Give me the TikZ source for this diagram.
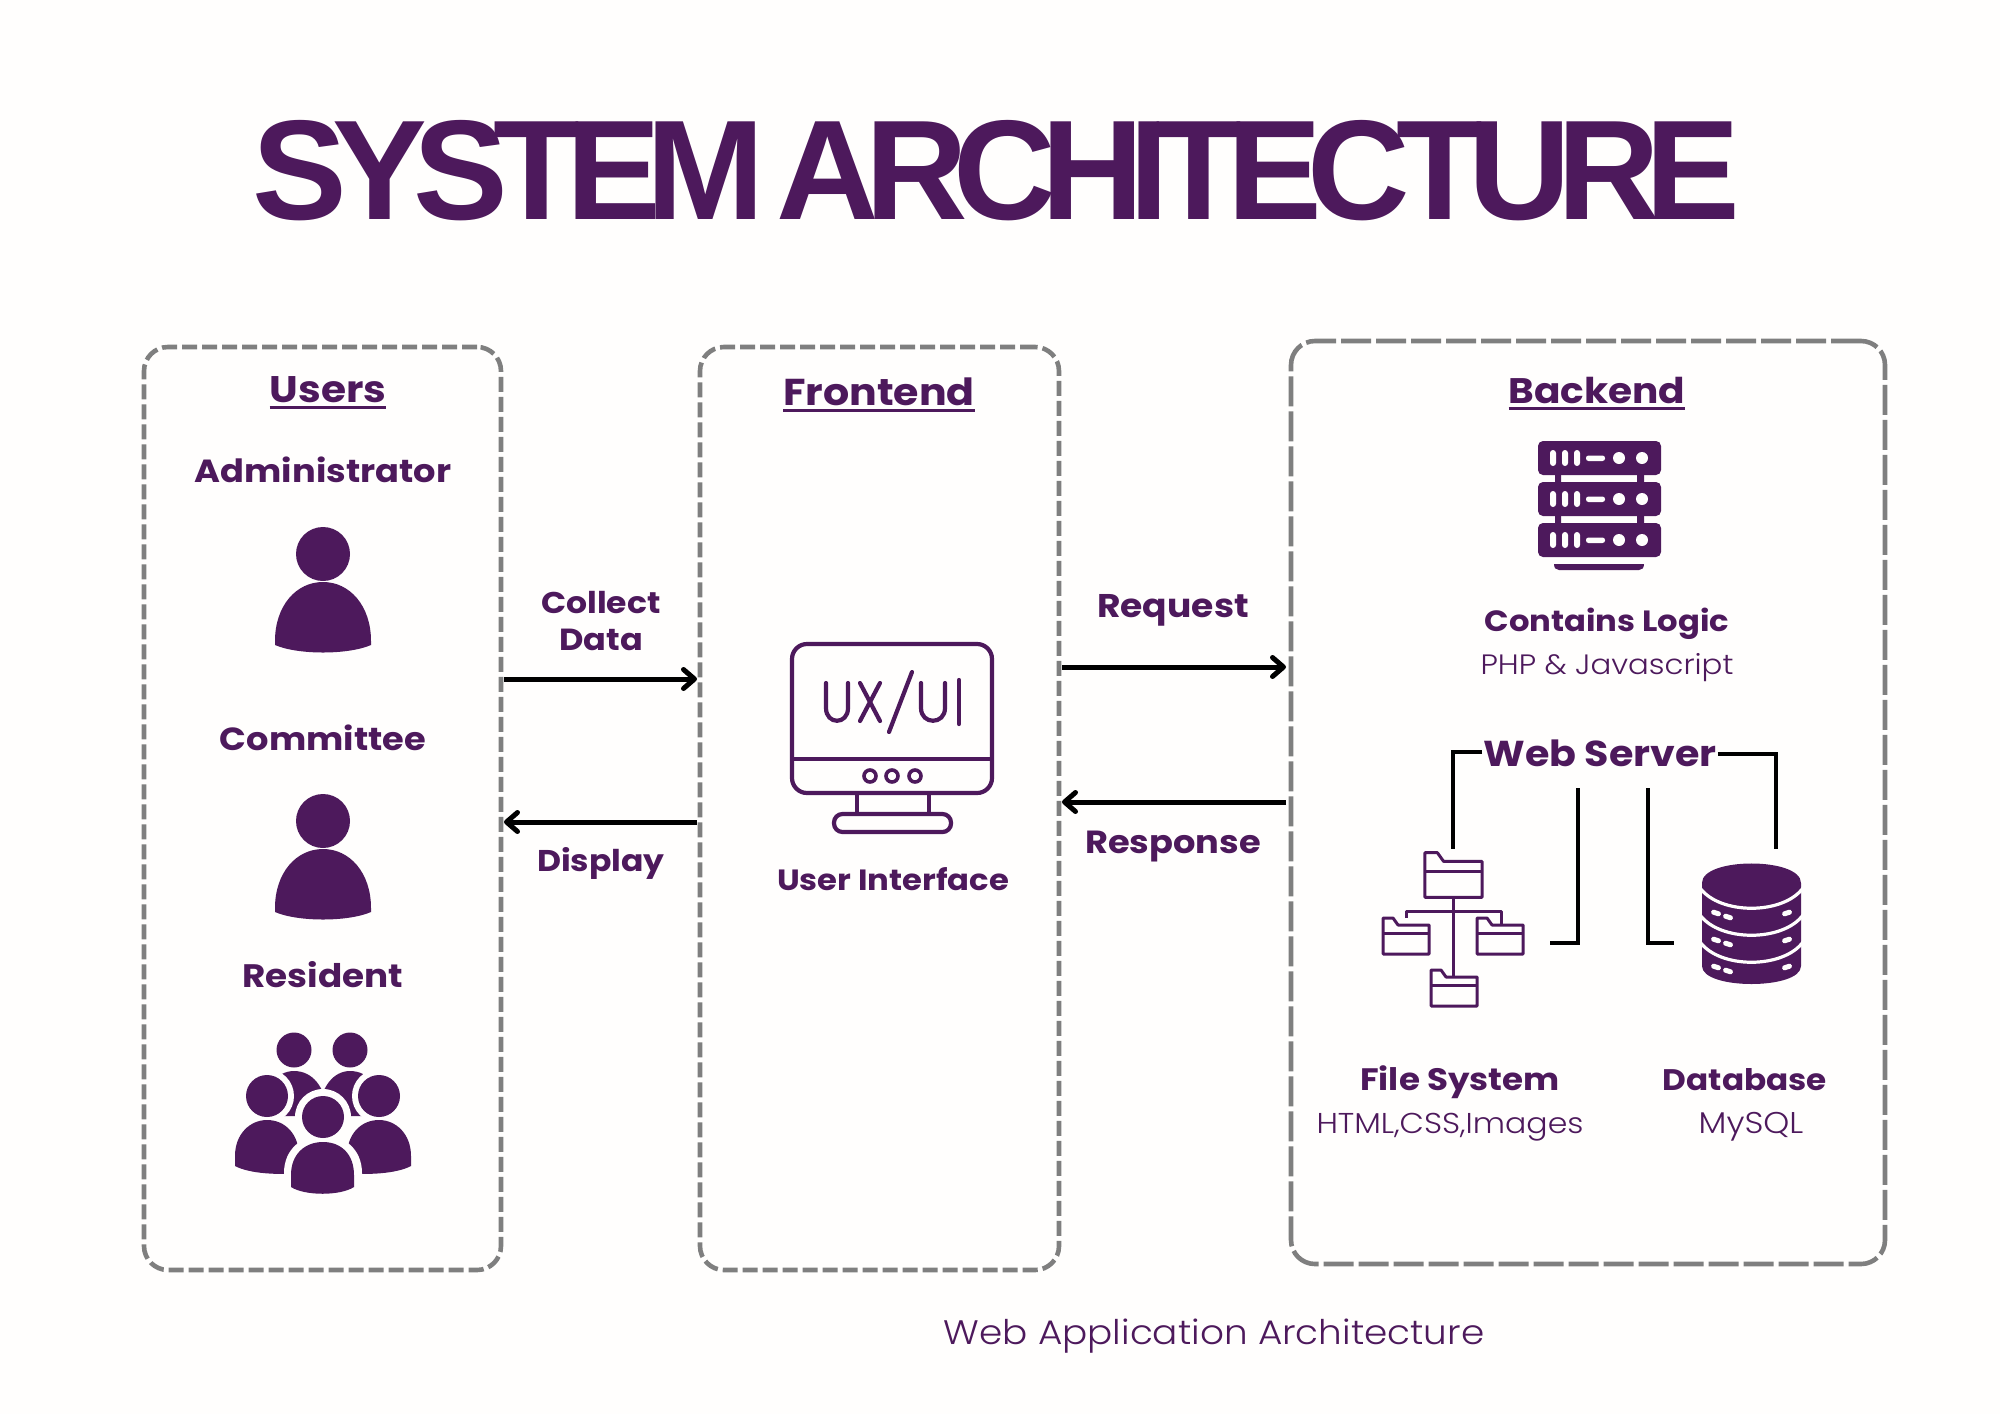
\documentclass[tikz,border=0pt]{standalone}
\usepackage{fontspec}
\usetikzlibrary{arrows.meta}
\setmainfont[FakeStretch=1.1,UprightFont=* Light,BoldFont=*-Bold]{Poppins}
\newfontfamily\titlefont[LetterSpace=-10.05]{Liberation Sans}
\definecolor{plum}{HTML}{4D195C}
\definecolor{boxgrey}{HTML}{7F7F7F}
\definecolor{paper}{HTML}{FFFEFD}
\newcommand{\ulbar}[1]{\setbox0\hbox{#1}\rlap{\rule[-6pt]{\wd0}{2.8pt}}\box0}
\tikzset{
  x=1pt,y=-1pt,
  fsb/.style={font=\fontsize{#1}{40}\selectfont\bfseries},
  fsr/.style={font=\fontsize{#1}{40}\selectfont},
  lbl/.style={inner sep=0pt,anchor=mid,yshift=-10.5pt,text=plum,fsb=32,align=center},
  head/.style={inner sep=0pt,anchor=mid,yshift=-11pt,text=plum,fsb=37},
  sub/.style={inner sep=0pt,anchor=mid,yshift=-9pt,text=plum,fsr=28},
  dashbox/.style={draw=boxgrey,outer sep=0pt,line width=4.6pt,rounded corners=24pt,dash pattern=on 15pt off 5pt,inner sep=0pt,anchor=north west},
  flow/.style={draw=black,line width=5pt,-{Straight Barb[round,length=11pt,width=19pt,line width=5pt]}},
  wire/.style={draw=black,line width=4pt,line cap=butt},
  icon/.style={draw=plum,line width=3pt,line join=round,fill=none},
  personicon/.pic={
    \fill[plum] (0,0) circle[radius=27];
    \fill[plum] (-48,87) .. controls (-48,52) and (-27,28) .. (0,28) .. controls (27,28) and (48,52) .. (48,87) -- (48,91) .. controls (25,101) and (-25,101) .. (-48,91) -- cycle;
  },
  foldericon/.pic={
    \draw[icon] (-23,-18) -- (-23,18) -- (23,18) -- (23,-11) -- (-8,-11) -- (-13,-18) -- cycle;
    \draw[icon] (-23,-3) -- (23,-3);
  },
}
\begin{document}
\begin{tikzpicture}
\useasboundingbox (0,0) rectangle (2000,1414);
\fill[paper] (0,0) rectangle (2000,1414);

\node[inner sep=0pt,text=plum,font=\fontsize{142}{142}\selectfont\titlefont\bfseries,anchor=base] (title) at (996,219) {SYSTEM\hspace{-13pt} ARCHITECTURE};

% boxes
\node[dashbox,minimum width=357pt,minimum height=923pt] (users) at (144,347) {};
\node[dashbox,minimum width=359pt,minimum height=923pt] (front) at (700,347) {};
\node[dashbox,dash pattern=on 30pt off 5pt,minimum width=594pt,minimum height=923pt] (back) at (1291,341) {};

% headings and labels
\node[head] (husers) at (328,389) {\ulbar{Users}};
\node[head,fsb=37.4] (hfront) at (879,392) {\ulbar{Frontend}};
\node[head,fsb=35.5] (hback) at (1597,390) {\ulbar{Backend}};
\node[lbl] (ladmin) at (323,469) {Administrator};
\node[lbl] (lcomm) at (323,737) {Committee};
\node[lbl,fsb=32.5] (lres) at (323,974) {Resident};
\node[lbl,fsb=30] (lcollect) at (601,600) {Collect};
\node[lbl,fsb=30.5] (ldata) at (601,637) {Data};
\node[lbl,fsb=30] (ldisp) at (601,858) {Display};
\node[lbl,fsb=32.8] (lreq) at (1173,604.5) {Request};
\node[lbl] (lresp) at (1173,840.5) {Response};
\node[lbl,fsb=29.3] (lui) at (893,877) {User Interface};
\node[lbl,fsb=29.3] (llogic) at (1607,618) {Contains Logic};
\node[sub] (lphp) at (1607,663) {PHP \& Javascript};
\node[head,fsb=36] (ws) at (1600,753) {Web Server};
\node[lbl,fsb=31] (lfile) at (1460,1077.5) {File System};
\node[sub,fsr=28.7] (lhtml) at (1450,1122) {HTML,CSS,Images};
\node[lbl,fsb=29.7] (ldb) at (1745,1077.5) {Database};
\node[sub,fsr=30] (lmysql) at (1751,1122) {MySQL};
\node[sub,fsr=34,yshift=-1pt] (lcap) at (1214,1332) {Web Application Architecture};

% flows
\coordinate (ycollect) at (0,679);
\coordinate (ydisp) at (0,822);
\coordinate (yreq) at (0,667);
\coordinate (yresp) at (0,802);
\draw[flow] ([xshift=3pt]users.east |- ycollect) -- ([xshift=-3pt]front.west |- ycollect);
\draw[flow] ([xshift=-3pt]front.west |- ydisp) -- ([xshift=3pt]users.east |- ydisp);
\draw[flow] ([xshift=3pt]front.east |- yreq) -- ([xshift=-5pt]back.west |- yreq);
\draw[flow] ([xshift=-5pt]back.west |- yresp) -- ([xshift=3pt]front.east |- yresp);

% people
\pic at (323,554) {personicon};
\pic at (323,821) {personicon};

% group
\begin{scope}[yshift=-1pt]
\fill[plum] (294,1049) circle[radius=17.5];
\fill[plum] (350,1049) circle[radius=17.5];
\fill[plum] (260,1115) .. controls (262,1085) and (278,1070) .. (294,1070) .. controls (312,1070) and (326,1085) .. (328,1115) -- cycle;
\fill[plum] (318,1115) .. controls (320,1085) and (334,1070) .. (350,1070) .. controls (368,1070) and (382,1085) .. (384,1115) -- cycle;
\fill[paper] (267,1095) circle[radius=27];
\fill[paper] (379,1095) circle[radius=27];
\fill[plum] (267,1095) circle[radius=21];
\fill[plum] (379,1095) circle[radius=21];
\fill[plum] (235,1165) -- (235,1155) .. controls (235,1133) and (250,1119) .. (267,1119) .. controls (285,1119) and (299,1133) .. (299,1155) -- (299,1172) .. controls (280,1174) and (250,1173) .. (235,1165) -- cycle;
\fill[plum] (411,1165) -- (411,1155) .. controls (411,1133) and (396,1119) .. (379,1119) .. controls (361,1119) and (347,1133) .. (347,1155) -- (347,1172) .. controls (366,1174) and (396,1173) .. (411,1165) -- cycle;
\fill[paper] (323,1116) circle[radius=28];
\fill[paper] (284,1200) -- (284,1172) .. controls (284,1148) and (302,1134) .. (323,1134) .. controls (344,1134) and (362,1148) .. (362,1172) -- (362,1200) -- cycle;
\fill[plum] (323,1116) circle[radius=21];
\fill[plum] (291,1186) -- (291,1174) .. controls (291,1153) and (305,1141) .. (323,1141) .. controls (341,1141) and (354,1153) .. (354,1174) -- (354,1186) .. controls (340,1195) and (305,1195) .. (291,1186) -- cycle;
\end{scope}

% monitor
\begin{scope}[yshift=-1pt]
\draw[plum,line width=4.2pt,rounded corners=15pt] (792,643) rectangle (992,792);
\draw[plum,line width=4.2pt] (792,758) -- (992,758);
\draw[plum,line width=3.6pt] (870,775) circle[radius=6] (892,775) circle[radius=6] (915,775) circle[radius=6];
\draw[plum,line width=4.2pt] (857,792) -- (857,813) (929,792) -- (929,813);
\draw[plum,line width=4.2pt,rounded corners=8.5pt] (834,813) rectangle (951,831);
\begin{scope}[plum,line width=4.2pt,line cap=round]
\draw (826,682) -- (826,707) .. controls (826,724) and (848,724) .. (848,707) -- (848,682);
\draw (860,682) -- (880,720) (880,682) -- (860,720);
\draw (912,671) -- (889,731);
\draw (921,682) -- (921,707) .. controls (921,724) and (945,724) .. (945,707) -- (945,682);
\draw (959,679) -- (959,723);
\end{scope}
\end{scope}

% server
\fill[plum] (1555,475) rectangle (1561,523) (1637,475) rectangle (1644,523);
\foreach \cy in {458,499,540}{
  \fill[plum,rounded corners=5pt] (1538,\cy-17) rectangle (1661,\cy+17);
  \foreach \px in {1553,1565,1577}{
    \fill[paper,rounded corners=3pt] (\px-3,\cy-8) rectangle (\px+3,\cy+8);
  }
  \fill[paper,rounded corners=2.5pt] (1586,\cy-2.5) rectangle (1605,\cy+3);
  \fill[paper] (1619,\cy) circle[radius=6];
  \fill[paper] (1642,\cy) circle[radius=6];
}
\fill[plum] (1554,564) -- (1644,564) .. controls (1644,568) and (1642,570) .. (1639,570) -- (1559,570) .. controls (1556,570) and (1554,568) .. (1554,564) -- cycle;

% web-server wiring
\coordinate (foldtop) at (1453,849);
\coordinate (dbtop) at (1776,849);
\coordinate (yl) at (0,752);
\coordinate (yr) at (0,754);
\coordinate (linnertop) at (1578,788);
\coordinate (linnerend) at (1550,943);
\coordinate (rinnertop) at (1648,788);
\coordinate (rinnerend) at (1674,943);
\draw[wire] ([xshift=-1pt]ws.west |- yl) -| (foldtop);
\draw[wire] ([xshift=1pt]ws.east |- yr) -| (dbtop);
\draw[wire] (linnertop) |- (linnerend);
\draw[wire] (rinnertop) |- (rinnerend);

% folders
\pic[scale=1.24] at (1453.5,875) {foldericon};
\pic at (1406,936) {foldericon};
\pic at (1500,936) {foldericon};
\pic at (1454,988) {foldericon};
\draw[icon] (1453.5,897) -- (1453.5,977);
\draw[icon] (1406,918) -- (1406,911) -- (1501,911) -- (1501,925);

% database
\fill[plum] (1702,883) -- (1702,966) .. controls (1702,990) and (1801,990) .. (1801,966) -- (1801,883) -- cycle;
\fill[plum] (1702,883) .. controls (1702,857) and (1801,857) .. (1801,883) -- cycle;
\foreach \ys/\yc in {888/910,915/937,942/964}{
  \draw[paper,line width=3.2pt] (1700,\ys) .. controls (1720,\yc+5) and (1783,\yc+5) .. (1803,\ys);
}
\foreach \yo in {0,27,54}{
  \fill[paper,rotate around={-18:(1716,913+\yo)},rounded corners=2.4pt] (1711,910.5+\yo) rectangle (1721,915.5+\yo);
  \fill[paper,rotate around={-18:(1728,917+\yo)},rounded corners=2.4pt] (1723,914.5+\yo) rectangle (1733,919.5+\yo);
  \fill[paper,rotate around={18:(1787,913+\yo)},rounded corners=2.4pt] (1782,910.5+\yo) rectangle (1792,915.5+\yo);
}
\end{tikzpicture}
\end{document}
